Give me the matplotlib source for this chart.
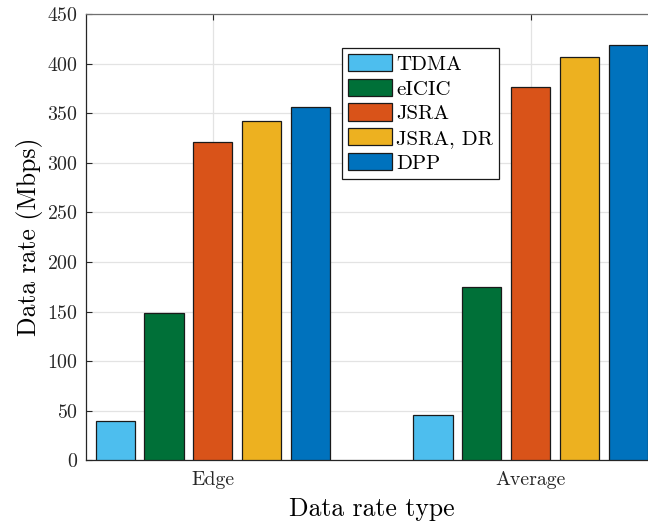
import matplotlib
matplotlib.use("Agg")
import matplotlib.pyplot as plt
import numpy as np

plt.rcParams["font.family"] = ["cmr10", "DejaVu Serif"]
plt.rcParams["mathtext.fontset"] = "cm"
plt.rcParams["axes.formatter.use_mathtext"] = True

categories = ["Edge", "Average"]
schemes = ["TDMA", "eICIC", "JSRA", "JSRA, DR", "DPP"]
tdma = [40, 46]
eicic = [149, 175]
jsra = [321, 376]
jsra_dr = [342, 407]
dpp = [356, 419]
colors = ["#4DBEEE", "#007038", "#D95319", "#EDB120", "#0072BD"]

series = [tdma, eicic, jsra, jsra_dr, dpp]

fig = plt.figure(figsize=(6.48, 5.21), dpi=100)
# axes runs a little past the right edge of the canvas
ax = fig.add_axes([0.1323, 0.1165, 0.883, 0.8566])

x = np.arange(1, len(categories) + 1)
n = len(series)
group_w = min(0.8, n / (n + 1.5))
step = group_w / n
bar_w = 0.8 * step
for i, (vals, name, c) in enumerate(zip(series, schemes, colors)):
    offs = (i - (n - 1) / 2) * step
    ax.bar(x + offs, vals, width=bar_w, color=c, edgecolor="#1a1a1a",
           linewidth=0.9, label=name, zorder=3)

ax.set_xlim(0.6, 2.4)
ax.set_ylim(0, 450)
ax.set_xticks(x)
ax.set_xticklabels(categories)
ax.set_yticks(np.arange(0, 451, 50))
ax.grid(True, color="#e3e3e3", linewidth=0.9, zorder=0)
ax.set_axisbelow(True)

for side in ["left", "bottom"]:
    ax.spines[side].set_color("#262626")
ax.spines["top"].set_color("#707070")
for s in ax.spines.values():
    s.set_linewidth(0.9)

ax.tick_params(axis="both", direction="in", top=True, right=True,
               length=4, width=0.8, colors="#262626", labelsize=14.3)
ax.tick_params(axis="y", pad=5.5)
ax.tick_params(axis="x", pad=8)

ax.set_xlabel("Data rate type", fontsize=18.5, labelpad=6)
ax.set_ylabel("Data rate (Mbps)", fontsize=18.5, labelpad=3)

leg = ax.legend(loc="upper left", bbox_to_anchor=(0.4474, 0.9245),
                borderaxespad=0, fontsize=15, fancybox=False, framealpha=1,
                edgecolor="#1a1a1a", handlelength=2.1, handleheight=0.91,
                labelspacing=0.23, handletextpad=0.2, borderpad=0.3)
leg.get_frame().set_linewidth(0.9)

fig.savefig("out.png", dpi=100)
